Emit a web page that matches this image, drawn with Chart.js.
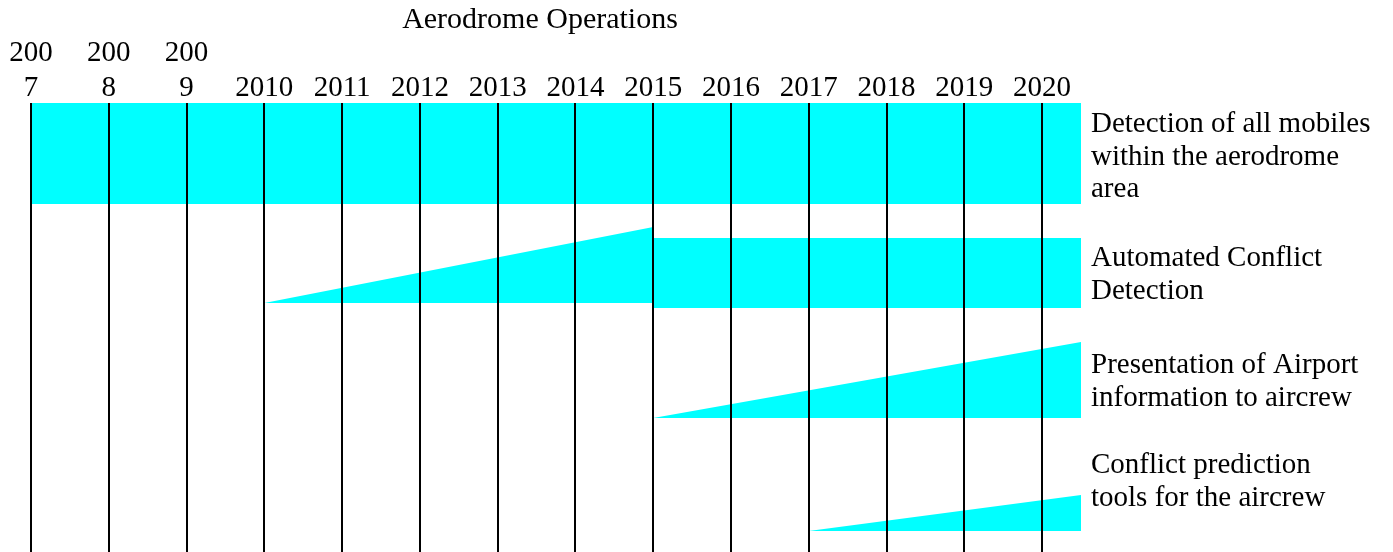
<!DOCTYPE html>
<html>
<head>
<meta charset="utf-8">
<title>Aerodrome Operations</title>
<script src="https://cdn.jsdelivr.net/npm/chart.js@4.4.0/dist/chart.umd.min.js"></script>
<style>
  html, body { margin: 0; padding: 0; background: #fff; }
</style>
</head>
<body>
<canvas id="roadmap" width="1393" height="552"></canvas>
<script>
// years on the time line (vertical lines)
const years = [2007, 2008, 2009, 2010, 2011, 2012, 2013, 2014, 2015, 2016, 2017, 2018, 2019, 2020];
const yearLabels = [['200', '7'], ['200', '8'], ['200', '9'], '2010', '2011', '2012', '2013', '2014',
  '2015', '2016', '2017', '2018', '2019', '2020'];
const firstYear = 2007;
const lastYear = 2020.5;

const capabilities = [
  ['Detection of all mobiles', 'within the aerodrome', 'area'],
  ['Automated Conflict', 'Detection'],
  ['Presentation of Airport', 'information to aircrew'],
  ['Conflict prediction', 'tools for the aircrew']
];

// ramp = wedge growing from rampStart to rampEnd (levels: 0 = top, 4.49 = bottom)
const rampStart = [null, 2010, 2015, 2017];
const rampEnd = [null, 2015, 2020.5, 2020.5];
const rampBase = [null, 2.00, 3.15, 4.28];
const rampTop = [null, 1.24, 2.39, 3.92];

// full = capability in place
const fullStart = [2007, 2015, null, null];
const fullTop = [0, 1.35, null, null];
const fullBottom = [1.01, 2.05, null, null];

// where the text of each row sits
const labelLevel = [0.54, 1.72, 2.79, 3.79];

const CYAN = '#00ffff';
const FONT = "'Liberation Serif', 'Times New Roman', serif";

const datasets = [];
for (let i = 0; i < capabilities.length; i++) {
  if (fullStart[i] !== null) {
    datasets.push({
      label: capabilities[i].join(' '),
      data: [
        { x: fullStart[i], y: fullTop[i] },
        { x: lastYear, y: fullTop[i] },
        { x: lastYear, y: fullBottom[i] },
        { x: fullStart[i], y: fullBottom[i] },
        { x: fullStart[i], y: fullTop[i] }
      ],
      showLine: true, fill: 'shape', backgroundColor: CYAN, borderWidth: 0, pointRadius: 0
    });
  }
  if (rampStart[i] !== null) {
    datasets.push({
      label: capabilities[i].join(' ') + ' (ramp)',
      data: [
        { x: rampStart[i], y: rampBase[i] },
        { x: rampEnd[i], y: rampTop[i] },
        { x: rampEnd[i], y: rampBase[i] },
        { x: rampStart[i], y: rampBase[i] }
      ],
      showLine: true, fill: 'shape', backgroundColor: CYAN, borderWidth: 0, pointRadius: 0
    });
  }
}

const textPlugin = {
  id: 'texts',
  afterDraw(chart) {
    const ctx = chart.ctx;
    const y = chart.scales.y;
    ctx.save();
    ctx.fillStyle = '#000';
    ctx.textBaseline = 'middle';
    // title
    ctx.font = '30px ' + FONT;
    ctx.textAlign = 'center';
    ctx.fillText('Aerodrome Operations', 540, 20);
    // row labels
    ctx.font = '29px ' + FONT;
    ctx.textAlign = 'left';
    const lh = 32.5;
    capabilities.forEach((lines, i) => {
      const c = y.getPixelForValue(labelLevel[i]);
      const top = c - (lines.length - 1) * lh / 2;
      lines.forEach((t, k) => ctx.fillText(t, chart.chartArea.right + 10, top + k * lh));
    });
    ctx.restore();
  }
};

new Chart(document.getElementById('roadmap'), {
  type: 'scatter',
  data: { datasets: datasets },
  options: {
    responsive: false,
    animation: false,
    layout: { padding: { left: 31, right: 312, top: 0, bottom: 0 } },
    plugins: { legend: { display: false }, tooltip: { enabled: false }, title: { display: false } },
    scales: {
      x: {
        type: 'linear',
        position: 'top',
        min: firstYear,
        max: lastYear,
        afterBuildTicks: axis => { axis.ticks = years.map(v => ({ value: v })); },
        afterFit: axis => { axis.height = 103; },
        grid: { color: '#000', lineWidth: 2, drawTicks: false, z: 1 },
        border: { display: false },
        ticks: {
          color: '#000',
          padding: -3,
          maxRotation: 0,
          autoSkip: false,
          font: { family: FONT, size: 29, lineHeight: 1.22 },
          callback: (v, idx) => yearLabels[years.indexOf(v)]
        }
      },
      y: {
        display: false,
        reverse: true,
        min: 0,
        max: 4.49
      }
    }
  },
  plugins: [textPlugin]
});
</script>
</body>
</html>
